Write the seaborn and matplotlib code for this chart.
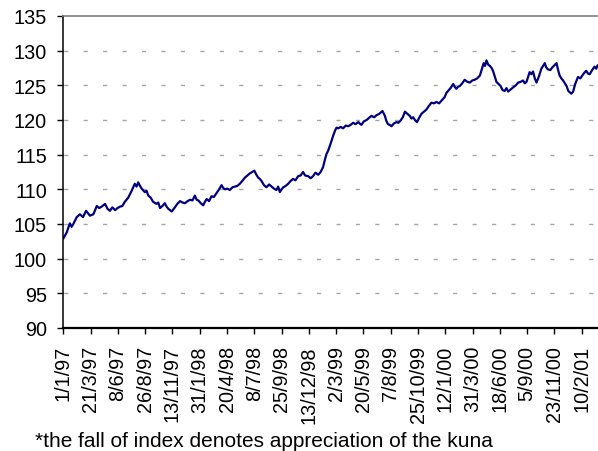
import matplotlib
matplotlib.use("Agg")
import matplotlib.pyplot as plt
import seaborn as sns
import pandas as pd
import numpy as np

# Days since 1 Jan 1997
day_offsets = [0, 10, 19, 24, 29, 39, 48, 57, 66, 77, 87, 97, 104, 111, 121, 128, 135, 142, 150, 157,
               164, 171, 178, 188, 198, 207, 212, 217, 222, 227, 236, 241, 246, 253, 260, 270, 275, 280, 287, 294,
               299, 304, 314, 323, 330, 338, 345, 352, 360, 367, 374, 381, 386, 391, 398, 405, 410, 415, 422, 429,
               436, 444, 451, 458, 463, 468, 475, 482, 490, 497, 504, 511, 518, 526, 533, 540, 547, 553, 558, 564,
               569, 574, 581, 588, 596, 603, 610, 617, 622, 627, 632, 637, 644, 651, 658, 665, 672, 680, 687, 694,
               700, 709, 716, 723, 730, 738, 745, 752, 757, 762, 767, 772, 776, 781, 787, 791, 796, 803, 810, 818,
               825, 832, 839, 846, 854, 858, 863, 870, 878, 885, 892, 900, 907, 915, 924, 931, 935, 940, 945, 950,
               957, 965, 970, 976, 983, 989, 996, 1003, 1008, 1013, 1018, 1024, 1030, 1037, 1044, 1051, 1058, 1066, 1073, 1080,
               1088, 1095, 1100, 1104, 1109, 1114, 1121, 1129, 1133, 1138, 1143, 1148, 1155, 1162, 1170, 1177, 1184, 1191, 1198, 1206,
               1211, 1217, 1221, 1225, 1230, 1235, 1240, 1244, 1249, 1254, 1260, 1266, 1272, 1278, 1283, 1288, 1295, 1302, 1310, 1317,
               1324, 1331, 1336, 1341, 1346, 1350, 1355, 1360, 1365, 1370, 1377, 1384, 1389, 1394, 1398, 1403, 1410, 1416, 1422, 1428,
               1432, 1437, 1442, 1447, 1452, 1457, 1462, 1466, 1471, 1476, 1482, 1490, 1497, 1505, 1510, 1514, 1519, 1524, 1531, 1538,
               1543, 1547]

index_values = [102.9, 103.8, 105.1, 104.6, 105.0, 106.0, 106.4, 106.0, 106.9, 106.2, 106.4, 107.6, 107.3, 107.5, 107.9, 107.2, 106.9, 107.4, 107.0, 107.3,
                107.5, 107.6, 108.2, 108.8, 109.8, 110.8, 110.4, 111.0, 110.5, 110.1, 109.6, 109.8, 109.1, 108.8, 108.2, 107.9, 108.1, 107.3, 107.6, 108.0,
                107.5, 107.2, 106.8, 107.4, 107.9, 108.3, 108.1, 108.0, 108.3, 108.5, 108.4, 109.1, 108.5, 108.4, 108.0, 107.7, 108.2, 108.6, 108.3, 109.0,
                108.9, 109.5, 110.0, 110.6, 110.2, 110.0, 110.1, 109.9, 110.3, 110.4, 110.5, 110.8, 111.2, 111.7, 112.0, 112.3, 112.5, 112.7, 112.2, 111.7,
                111.5, 111.2, 110.6, 110.3, 110.7, 110.4, 110.1, 109.9, 110.4, 109.6, 110.0, 110.3, 110.5, 110.8, 111.2, 111.5, 111.3, 111.9, 112.0, 112.5,
                112.0, 111.9, 111.6, 111.9, 112.4, 112.1, 112.5, 113.2, 114.2, 115.1, 115.6, 116.3, 116.9, 117.7, 118.5, 118.9, 118.8, 119.0, 118.8, 119.2,
                119.1, 119.3, 119.6, 119.4, 119.7, 119.5, 119.3, 119.8, 120.0, 120.3, 120.6, 120.4, 120.7, 120.9, 121.3, 120.6, 119.9, 119.4, 119.3, 119.1,
                119.5, 119.7, 119.6, 119.9, 120.4, 121.2, 120.9, 120.6, 120.2, 120.4, 120.0, 119.7, 120.3, 120.9, 121.2, 121.5, 122.0, 122.5, 122.4, 122.6,
                122.4, 122.8, 123.1, 123.3, 123.9, 124.2, 124.6, 125.2, 124.8, 124.5, 124.8, 124.9, 125.3, 125.8, 125.5, 125.4, 125.7, 125.8, 126.0, 126.4,
                127.2, 128.2, 127.8, 128.6, 128.0, 127.8, 127.5, 127.1, 126.3, 125.5, 125.2, 124.9, 124.3, 124.2, 124.6, 124.1, 124.4, 124.7, 125.0, 125.4,
                125.5, 125.7, 125.3, 125.5, 126.3, 126.9, 126.6, 127.0, 126.0, 125.4, 126.3, 127.4, 127.8, 128.2, 127.6, 127.3, 127.2, 127.6, 127.9, 128.2,
                127.3, 126.4, 126.0, 125.7, 125.3, 124.9, 124.2, 124.0, 123.8, 124.1, 125.2, 126.2, 126.0, 126.6, 126.9, 127.1, 126.7, 126.6, 127.2, 127.7,
                127.4, 127.9]

tick_labels = ["1/1/97", "21/3/97", "8/6/97", "26/8/97", "13/11/97", "31/1/98", "20/4/98", "8/7/98",
               "25/9/98", "13/12/98", "2/3/99", "20/5/99", "7/8/99", "25/10/99", "12/1/00", "31/3/00",
               "18/6/00", "5/9/00", "23/11/00", "10/2/01"]
y_ticks = [90, 95, 100, 105, 110, 115, 120, 125, 130, 135]
footnote = "*the fall of index denotes appreciation of the kuna"

start = pd.Timestamp("1997-01-01")
df = pd.DataFrame({
    "date": start + pd.to_timedelta(day_offsets, unit="D"),
    "index": index_values,
})

sns.set_style("white")
plt.rcParams["font.family"] = ["Liberation Sans", "DejaVu Sans"]
plt.rcParams["lines.scale_dashes"] = False

fig = plt.figure(figsize=(5.98, 4.52), dpi=100)
ax = fig.add_axes([63.3 / 598, 1 - 329 / 452, 1 - 63.3 / 598, (329 - 17) / 452])

sns.lineplot(data=df, x="date", y="index", ax=ax, color="#000080", linewidth=1.6)

ax.set_ylim(90, 135)
ax.set_yticks(y_ticks)
ax.set_yticklabels([str(v) for v in y_ticks])
ax.set_xlim(start, start + pd.Timedelta(days=1548))
tick_dates = pd.to_datetime(tick_labels, format="%d/%m/%y")
ax.set_xticks(tick_dates)
ax.set_xticklabels(tick_labels, rotation=90, va="top", ha="center")
ax.set_xlabel("")
ax.set_ylabel("")

ax.tick_params(axis="both", direction="out", length=4.3, width=1.0, color="black",
               labelsize=14.3, labelcolor="black")
ax.tick_params(axis="y", pad=7.5)
ax.tick_params(axis="x", pad=8)
ax.yaxis.set_ticks_position("left")
ax.xaxis.set_ticks_position("bottom")

# Gridlines
for v in y_ticks[1:-1]:
    ax.axhline(v, color="#a6a6a6", linewidth=1.0, linestyle=(13.5, (3.0, 11.0)), zorder=0)

for s in ["left", "bottom"]:
    ax.spines[s].set_color("black")
ax.spines["left"].set_linewidth(1.1)
ax.spines["bottom"].set_linewidth(1.6)
ax.spines["top"].set_color("#808080")
ax.spines["top"].set_linewidth(1.2)
ax.spines["right"].set_visible(False)

fig.text(35 / 598, 1 - 446.7 / 452, footnote, fontsize=15, ha="left", va="baseline", color="black")

fig.savefig("out.png", dpi=100)
